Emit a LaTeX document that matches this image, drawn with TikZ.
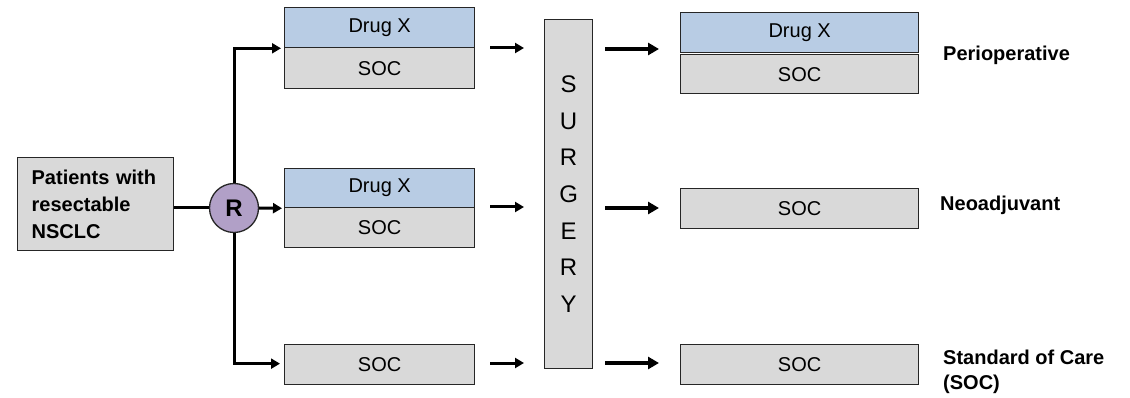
\documentclass[tikz,border=0pt]{standalone}
\usepackage{fontspec}
\setmainfont{Liberation Sans}
\usetikzlibrary{arrows.meta,calc}
\definecolor{boxgray}{HTML}{D9D9D9}
\definecolor{boxblue}{HTML}{B8CCE4}
\definecolor{rpurple}{HTML}{B1A0C7}
\definecolor{edge}{HTML}{262626}
\begin{document}
\begin{tikzpicture}[x=1pt,y=-1pt,
  bx/.style={draw=edge,line width=1.3pt,inner sep=0pt,anchor=north west,font=\fontsize{20}{24}\selectfont},
  soc/.style={bx,fill=boxgray},
  drug/.style={bx,fill=boxblue},
  lbl/.style={anchor=west,align=left,inner sep=0pt,font=\bfseries\fontsize{20}{25}\selectfont},
  conn/.style={line width=3pt,line join=miter},
  arr/.style={line width=3pt,-{Triangle[length=9pt,width=10pt]}},
  arrb/.style={line width=4pt,-{Triangle[length=11pt,width=12pt]}}]
\useasboundingbox (0,0) rectangle (1130,398);
% patients
\node[soc,minimum width=156,minimum height=93,align=left,text width=140,
      font=\bfseries\fontsize{20}{27}\selectfont] (P) at (17,157)
      {\hspace*{6pt}\parbox{140pt}{Patients with\\resectable\\NSCLC}};
\node[circle,draw=edge,line width=1.3pt,fill=rpurple,minimum size=49,inner sep=0pt,
      font=\bfseries\fontsize{24}{28}\selectfont] (R) at (234,208) {R};
% left boxes
\node[drug,minimum width=190,minimum height=40] (d1) at (284,7) {Drug X};
\node[soc,minimum width=190,minimum height=41] (s1) at (284,47) {SOC};
\node[drug,minimum width=190,minimum height=39] (d2) at (284,168) {Drug X};
\node[soc,minimum width=190,minimum height=40] (s2) at (284,207) {SOC};
\node[soc,minimum width=190,minimum height=40] (s3) at (284,344) {SOC};
% surgery
\node[bx,fill=boxgray,minimum width=48,minimum height=349,align=center,
      font=\fontsize{24}{36.7}\selectfont] (S) at (544,19) {S\\U\\R\\G\\E\\R\\Y};
% right boxes
\node[drug,minimum width=238,minimum height=40] (d4) at (680,12) {Drug X};
\node[soc,minimum width=238,minimum height=39] (s4) at (680,54) {SOC};
\node[soc,minimum width=238,minimum height=40] (s5) at (680,188) {SOC};
\node[soc,minimum width=238,minimum height=40] (s6) at (680,344) {SOC};
% labels
\node[lbl] (L1) at (943,55) {Perioperative};
\node[lbl] (L2) at (940,205) {Neoadjuvant};
\node[lbl] (L3) at (943,372) {Standard of Care\\(SOC)};
% connectors
\draw[conn] (P.east |- R.west) -- (R.west);
\draw[arr,shorten >=2pt] (R.east) -- (d2.south west);
\draw[arr,shorten >=3pt,line join=miter] (R.north) |- (d1.south west);
\draw[arr,shorten >=4pt,line join=miter] (R.south) |- ($(s3.west)+(0,-1)$);
% free arrows
\coordinate (a1s) at (490,48); \coordinate (a1e) at (524,48);
\coordinate (a2s) at (490,207); \coordinate (a2e) at (524,207);
\coordinate (a3s) at (490,363); \coordinate (a3e) at (524,363);
\draw[arr] (a1s) -- (a1e);
\draw[arr] (a2s) -- (a2e);
\draw[arr] (a3s) -- (a3e);
\coordinate (b1s) at (605,49); \coordinate (b1e) at (659,49);
\coordinate (b2s) at (605,208); \coordinate (b2e) at (659,208);
\coordinate (b3s) at (605,363); \coordinate (b3e) at (659,363);
\draw[arrb] (b1s) -- (b1e);
\draw[arrb] (b2s) -- (b2e);
\draw[arrb] (b3s) -- (b3e);
\end{tikzpicture}
\end{document}
